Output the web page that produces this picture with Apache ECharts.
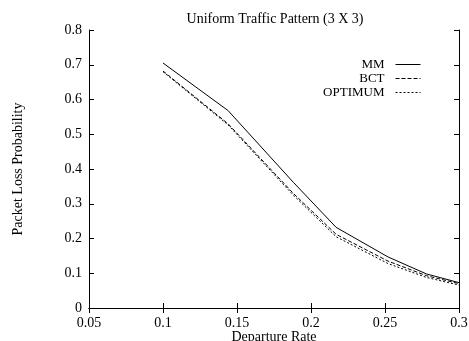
<!DOCTYPE html>
<html>
<head>
<meta charset="utf-8">
<script src="https://cdn.jsdelivr.net/npm/echarts@6/dist/echarts.min.js"></script>
<style>
  html, body { margin: 0; padding: 0; background: #fff; }
  #chart { width: 469px; height: 341px; }
</style>
</head>
<body>
<div id="chart"></div>
<script>
const rates = [0.1, 0.144, 0.188, 0.217, 0.252, 0.278, 0.3];
const mm = [0.705, 0.568, 0.362, 0.232, 0.147, 0.098, 0.073];
const bct = [0.682, 0.530, 0.330, 0.212, 0.135, 0.093, 0.070];
const optimum = [0.680, 0.527, 0.325, 0.205, 0.128, 0.088, 0.066];

const font = 'Liberation Serif';
const pairs = (ys) => rates.map((x, i) => [x, ys[i]]);

const chart = echarts.init(document.getElementById('chart'));

const tick = { show: true, inside: true, length: 5, lineStyle: { color: '#000' } };
const line = { show: true, lineStyle: { color: '#000', width: 1 } };

const option = {
  backgroundColor: '#fff',
  animation: false,
  title: {
    text: 'Uniform Traffic Pattern (3 X 3)',
    left: 270,
    textAlign: 'center',
    top: 7,
    textStyle: { fontFamily: font, fontWeight: 'normal', fontSize: 14, color: '#000' }
  },
  legend: {
    orient: 'vertical',
    right: 43,
    top: 53,
    align: 'right',
    itemWidth: 25,
    itemHeight: 10,
    itemGap: 1,
    itemStyle: { opacity: 0 },
    lineStyle: { width: 1 },
    textStyle: { fontFamily: font, fontSize: 13, color: '#000', padding: [0, 6, 0, 0] },
    data: ['MM', 'BCT', 'OPTIMUM']
  },
  grid: { left: 89, right: 10, top: 30, bottom: 33, outerBoundsMode: 'none', containLabel: false },
  xAxis: [
    {
      type: 'value', min: 0.05, max: 0.3, interval: 0.05,
      name: 'Departure Rate', nameLocation: 'middle', nameGap: 22, nameMoveOverlap: false,
      nameTextStyle: { fontFamily: font, fontSize: 14, color: '#000' },
      axisLine: line, axisTick: tick, splitLine: { show: false },
      axisLabel: { fontFamily: font, fontSize: 14, color: '#000', margin: 8 }
    },
    {
      type: 'value', position: 'top', min: 0.05, max: 0.3, interval: 0.05,
      axisLine: line, axisTick: tick, splitLine: { show: false },
      axisLabel: { show: false }
    }
  ],
  yAxis: [
    {
      type: 'value', min: 0, max: 0.8, interval: 0.1,
      name: 'Packet Loss Probability', nameLocation: 'middle', nameGap: 64,
      nameTextStyle: { fontFamily: font, fontSize: 14, color: '#000' },
      axisLine: line, axisTick: tick, splitLine: { show: false },
      axisLabel: { fontFamily: font, fontSize: 14, color: '#000', margin: 7 }
    },
    {
      type: 'value', position: 'right', min: 0, max: 0.8, interval: 0.1,
      axisLine: line, axisTick: tick, splitLine: { show: false },
      axisLabel: { show: false }
    }
  ],
  series: [
    {
      name: 'MM', type: 'line', data: pairs(mm), symbol: 'none',
      lineStyle: { color: '#000', width: 1, type: 'solid' }, itemStyle: { color: '#000' }
    },
    {
      name: 'BCT', type: 'line', data: pairs(bct), symbol: 'none',
      lineStyle: { color: '#000', width: 1, type: [4, 2] }, itemStyle: { color: '#000' }
    },
    {
      name: 'OPTIMUM', type: 'line', data: pairs(optimum), symbol: 'none',
      lineStyle: { color: '#000', width: 1, type: [2, 2] }, itemStyle: { color: '#000' }
    }
  ]
};

chart.setOption(option);
</script>
</body>
</html>
